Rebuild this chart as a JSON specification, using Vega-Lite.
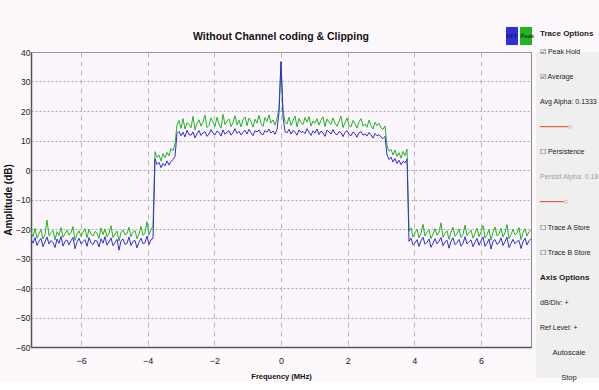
{
  "$schema": "https://vega.github.io/schema/vega-lite/v6.json",
  "background": "#fcf8fc",
  "padding": {"left": 3, "top": 30, "right": 0, "bottom": 0},
  "spacing": 4,
  "config": {
    "font": "Liberation Sans, Arial, sans-serif",
    "view": {"stroke": null}
  },
  "hconcat": [
    {
      "width": 500,
      "height": 295,
      "title": {"text": "Without Channel coding & Clipping", "fontSize": 10.5, "fontWeight": "bold", "color": "#111111", "offset": 6, "font": "Liberation Sans, Arial, sans-serif"},
      "view": {"fill": "#fcf6fc", "stroke": "#8a8a8a", "strokeWidth": 1},
      "data": {"values": [
        {"f":-7.5,"fft":-23.5,"peak":-21.0},{"f":-7.44,"fft":-24.8,"peak":-22.6},{"f":-7.38,"fft":-22.9,"peak":-19.8},{"f":-7.32,"fft":-25.6,"peak":-23.1},{"f":-7.26,"fft":-24.1,"peak":-21.5},{"f":-7.2,"fft":-23.2,"peak":-20.2},{"f":-7.14,"fft":-26.0,"peak":-23.4},{"f":-7.08,"fft":-24.4,"peak":-21.9},{"f":-7.02,"fft":-22.7,"peak":-17.0},{"f":-6.96,"fft":-25.1,"peak":-22.3},
        {"f":-6.9,"fft":-23.9,"peak":-21.2},{"f":-6.84,"fft":-24.6,"peak":-20.5},{"f":-6.78,"fft":-26.3,"peak":-23.7},{"f":-6.72,"fft":-23.4,"peak":-20.9},{"f":-6.66,"fft":-24.9,"peak":-22.2},{"f":-6.6,"fft":-22.5,"peak":-19.5},{"f":-6.54,"fft":-25.8,"peak":-22.8},{"f":-6.48,"fft":-24.2,"peak":-21.6},{"f":-6.42,"fft":-23.7,"peak":-20.4},{"f":-6.36,"fft":-25.4,"peak":-22.1},
        {"f":-6.3,"fft":-24.0,"peak":-21.3},{"f":-6.24,"fft":-22.8,"peak":-19.2},{"f":-6.18,"fft":-26.7,"peak":-23.9},{"f":-6.12,"fft":-24.5,"peak":-21.8},{"f":-6.06,"fft":-23.1,"peak":-20.6},{"f":-6,"fft":-25.0,"peak":-22.5},{"f":-5.94,"fft":-24.3,"peak":-21.1},{"f":-5.88,"fft":-23.6,"peak":-19.9},{"f":-5.82,"fft":-25.9,"peak":-23.0},{"f":-5.76,"fft":-22.9,"peak":-20.1},
        {"f":-5.7,"fft":-24.7,"peak":-21.7},{"f":-5.64,"fft":-25.3,"peak":-22.4},{"f":-5.58,"fft":-23.8,"peak":-20.8},{"f":-5.52,"fft":-24.1,"peak":-21.4},{"f":-5.46,"fft":-26.1,"peak":-23.2},{"f":-5.4,"fft":-23.3,"peak":-19.6},{"f":-5.34,"fft":-24.8,"peak":-21.9},{"f":-5.28,"fft":-22.6,"peak":-20.0},{"f":-5.22,"fft":-25.5,"peak":-22.7},{"f":-5.16,"fft":-24.4,"peak":-21.5},
        {"f":-5.1,"fft":-23.0,"peak":-18.9},{"f":-5.04,"fft":-25.7,"peak":-22.9},{"f":-4.98,"fft":-24.6,"peak":-21.8},{"f":-4.92,"fft":-23.5,"peak":-20.7},{"f":-4.86,"fft":-27.2,"peak":-24.1},{"f":-4.8,"fft":-24.0,"peak":-21.2},{"f":-4.74,"fft":-23.4,"peak":-20.3},{"f":-4.68,"fft":-25.2,"peak":-22.0},{"f":-4.62,"fft":-24.9,"peak":-21.6},{"f":-4.56,"fft":-22.7,"peak":-19.4},
        {"f":-4.5,"fft":-25.6,"peak":-22.6},{"f":-4.44,"fft":-24.2,"peak":-21.0},{"f":-4.38,"fft":-23.9,"peak":-20.5},{"f":-4.32,"fft":-26.4,"peak":-23.3},{"f":-4.26,"fft":-24.5,"peak":-21.7},{"f":-4.2,"fft":-23.1,"peak":-19.1},{"f":-4.14,"fft":-25.0,"peak":-22.2},{"f":-4.08,"fft":-24.7,"peak":-21.4},{"f":-4.02,"fft":-22.4,"peak":-17.5},{"f":-3.96,"fft":-25.3,"peak":-21.9},
        {"f":-3.9,"fft":-23.6,"peak":-20.2},{"f":-3.84,"fft":-23.2,"peak":-19.0},
        {"f":-3.78,"fft":3.8,"peak":6.2},{"f":-3.72,"fft":1.9,"peak":4.3},{"f":-3.66,"fft":2.6,"peak":5.1},{"f":-3.6,"fft":0.8,"peak":3.0},{"f":-3.54,"fft":2.2,"peak":5.6},{"f":-3.48,"fft":1.4,"peak":4.2},{"f":-3.42,"fft":3.1,"peak":6.0},{"f":-3.36,"fft":1.7,"peak":4.8},{"f":-3.3,"fft":2.9,"peak":7.3},{"f":-3.24,"fft":3.5,"peak":6.5},{"f":-3.18,"fft":4.6,"peak":8.8},
        {"f":-3.12,"fft":12.4,"peak":15.2},{"f":-3.06,"fft":13.1,"peak":16.8},{"f":-3,"fft":11.6,"peak":14.1},{"f":-2.94,"fft":12.8,"peak":17.4},{"f":-2.88,"fft":11.2,"peak":13.9},{"f":-2.82,"fft":13.5,"peak":16.0},{"f":-2.76,"fft":12.0,"peak":15.5},{"f":-2.7,"fft":11.8,"peak":14.3},{"f":-2.64,"fft":12.9,"peak":18.2},{"f":-2.58,"fft":10.9,"peak":13.6},
        {"f":-2.52,"fft":12.3,"peak":15.8},{"f":-2.46,"fft":13.4,"peak":17.0},{"f":-2.4,"fft":11.7,"peak":14.9},{"f":-2.34,"fft":12.6,"peak":16.3},{"f":-2.28,"fft":13.0,"peak":18.6},{"f":-2.22,"fft":11.4,"peak":14.4},{"f":-2.16,"fft":12.2,"peak":15.1},{"f":-2.1,"fft":13.7,"peak":17.7},{"f":-2.04,"fft":12.5,"peak":16.2},{"f":-1.98,"fft":11.9,"peak":14.8},
        {"f":-1.92,"fft":13.2,"peak":17.9},{"f":-1.86,"fft":12.7,"peak":15.6},{"f":-1.8,"fft":11.5,"peak":14.2},{"f":-1.74,"fft":13.6,"peak":18.9},{"f":-1.68,"fft":12.1,"peak":15.4},{"f":-1.62,"fft":12.9,"peak":16.6},{"f":-1.56,"fft":13.3,"peak":17.3},{"f":-1.5,"fft":11.8,"peak":14.7},{"f":-1.44,"fft":12.6,"peak":16.1},{"f":-1.38,"fft":14.0,"peak":18.4},
        {"f":-1.32,"fft":12.4,"peak":15.3},{"f":-1.26,"fft":13.1,"peak":16.9},{"f":-1.2,"fft":11.9,"peak":14.6},{"f":-1.14,"fft":12.8,"peak":17.1},{"f":-1.08,"fft":13.5,"peak":18.0},{"f":-1.02,"fft":12.2,"peak":15.0},{"f":-0.96,"fft":13.8,"peak":17.6},{"f":-0.9,"fft":12.7,"peak":16.4},{"f":-0.84,"fft":11.6,"peak":14.5},{"f":-0.78,"fft":13.3,"peak":17.2},
        {"f":-0.72,"fft":12.9,"peak":15.9},{"f":-0.66,"fft":13.6,"peak":18.5},{"f":-0.6,"fft":12.3,"peak":15.7},{"f":-0.54,"fft":11.9,"peak":14.8},{"f":-0.48,"fft":13.4,"peak":17.8},{"f":-0.42,"fft":12.8,"peak":16.5},{"f":-0.36,"fft":13.9,"peak":18.7},{"f":-0.3,"fft":12.5,"peak":15.9},{"f":-0.24,"fft":13.2,"peak":17.0},{"f":-0.18,"fft":12.1,"peak":15.2},
        {"f":-0.12,"fft":13.7,"peak":17.5},{"f":-0.06,"fft":19.5,"peak":21.0},{"f":0,"fft":36.8,"peak":36.5},{"f":0.06,"fft":18.0,"peak":20.2},
        {"f":0.12,"fft":13.0,"peak":16.4},{"f":0.18,"fft":12.6,"peak":15.6},{"f":0.24,"fft":13.8,"peak":17.9},{"f":0.3,"fft":12.2,"peak":15.1},{"f":0.36,"fft":13.4,"peak":16.7},{"f":0.42,"fft":12.9,"peak":18.3},{"f":0.48,"fft":11.8,"peak":14.6},{"f":0.54,"fft":13.6,"peak":17.5},{"f":0.6,"fft":12.7,"peak":16.0},
        {"f":0.66,"fft":13.1,"peak":15.4},{"f":0.72,"fft":12.3,"peak":17.8},{"f":0.78,"fft":14.0,"peak":16.2},{"f":0.84,"fft":12.8,"peak":18.1},{"f":0.9,"fft":11.7,"peak":14.9},{"f":0.96,"fft":13.3,"peak":16.6},{"f":1.02,"fft":12.5,"peak":15.8},{"f":1.08,"fft":13.9,"peak":17.4},{"f":1.14,"fft":12.0,"peak":15.2},{"f":1.2,"fft":13.2,"peak":16.9},
        {"f":1.26,"fft":12.6,"peak":18.0},{"f":1.32,"fft":11.4,"peak":14.7},{"f":1.38,"fft":13.5,"peak":17.3},{"f":1.44,"fft":12.9,"peak":16.1},{"f":1.5,"fft":12.2,"peak":15.5},{"f":1.56,"fft":13.7,"peak":17.7},{"f":1.62,"fft":12.4,"peak":15.9},{"f":1.68,"fft":11.9,"peak":14.8},{"f":1.74,"fft":13.0,"peak":16.5},{"f":1.8,"fft":12.7,"peak":18.2},
        {"f":1.86,"fft":11.3,"peak":14.4},{"f":1.92,"fft":12.8,"peak":16.0},{"f":1.98,"fft":13.4,"peak":17.6},{"f":2.04,"fft":12.1,"peak":15.3},{"f":2.1,"fft":11.6,"peak":14.6},{"f":2.16,"fft":12.9,"peak":16.8},{"f":2.22,"fft":12.3,"peak":15.7},{"f":2.28,"fft":11.1,"peak":14.2},{"f":2.34,"fft":12.6,"peak":16.3},{"f":2.4,"fft":13.0,"peak":17.4},
        {"f":2.46,"fft":11.8,"peak":14.9},{"f":2.52,"fft":12.2,"peak":15.6},{"f":2.58,"fft":11.5,"peak":14.5},{"f":2.64,"fft":12.7,"peak":16.9},{"f":2.7,"fft":11.9,"peak":15.1},{"f":2.76,"fft":10.8,"peak":13.9},{"f":2.82,"fft":12.4,"peak":16.2},{"f":2.88,"fft":11.6,"peak":15.0},{"f":2.94,"fft":12.0,"peak":15.8},{"f":3,"fft":11.2,"peak":14.3},
        {"f":3.06,"fft":10.6,"peak":13.8},{"f":3.12,"fft":11.4,"peak":14.9},
        {"f":3.18,"fft":5.1,"peak":8.2},{"f":3.24,"fft":3.6,"peak":6.4},{"f":3.3,"fft":4.4,"peak":7.0},{"f":3.36,"fft":2.7,"peak":5.1},{"f":3.42,"fft":3.9,"peak":6.8},{"f":3.48,"fft":2.2,"peak":4.6},{"f":3.54,"fft":3.3,"peak":5.9},{"f":3.6,"fft":1.8,"peak":4.0},{"f":3.66,"fft":3.0,"peak":6.3},{"f":3.72,"fft":2.4,"peak":4.9},{"f":3.78,"fft":3.7,"peak":7.1},
        {"f":3.84,"fft":-24.2,"peak":-20.8},{"f":3.9,"fft":-23.1,"peak":-19.6},{"f":3.96,"fft":-25.4,"peak":-22.7},{"f":4.02,"fft":-24.7,"peak":-21.3},{"f":4.08,"fft":-23.6,"peak":-20.1},{"f":4.14,"fft":-25.9,"peak":-23.0},{"f":4.2,"fft":-24.0,"peak":-21.5},{"f":4.26,"fft":-22.8,"peak":-18.4},{"f":4.32,"fft":-25.2,"peak":-22.4},{"f":4.38,"fft":-24.5,"peak":-21.0},
        {"f":4.44,"fft":-23.4,"peak":-20.3},{"f":4.5,"fft":-26.2,"peak":-23.3},{"f":4.56,"fft":-24.8,"peak":-21.7},{"f":4.62,"fft":-23.3,"peak":-19.9},{"f":4.68,"fft":-25.0,"peak":-22.1},{"f":4.74,"fft":-24.1,"peak":-21.2},{"f":4.8,"fft":-22.9,"peak":-17.9},{"f":4.86,"fft":-25.7,"peak":-22.8},{"f":4.92,"fft":-24.4,"peak":-21.4},{"f":4.98,"fft":-23.8,"peak":-20.6},
        {"f":5.04,"fft":-26.5,"peak":-23.5},{"f":5.1,"fft":-24.2,"peak":-21.1},{"f":5.16,"fft":-23.0,"peak":-19.4},{"f":5.22,"fft":-25.3,"peak":-22.5},{"f":5.28,"fft":-24.6,"peak":-21.6},{"f":5.34,"fft":-23.5,"peak":-20.0},{"f":5.4,"fft":-25.8,"peak":-22.9},{"f":5.46,"fft":-24.9,"peak":-21.8},{"f":5.52,"fft":-22.6,"peak":-18.7},{"f":5.58,"fft":-25.1,"peak":-22.2},
        {"f":5.64,"fft":-24.3,"peak":-21.3},{"f":5.7,"fft":-23.7,"peak":-20.4},{"f":5.76,"fft":-26.0,"peak":-23.1},{"f":5.82,"fft":-24.5,"peak":-21.5},{"f":5.88,"fft":-23.2,"peak":-19.7},{"f":5.94,"fft":-25.5,"peak":-22.6},{"f":6,"fft":-24.0,"peak":-21.0},{"f":6.06,"fft":-22.7,"peak":-18.8},{"f":6.12,"fft":-25.9,"peak":-23.0},{"f":6.18,"fft":-24.8,"peak":-21.9},
        {"f":6.24,"fft":-23.4,"peak":-20.2},{"f":6.3,"fft":-26.8,"peak":-23.8},{"f":6.36,"fft":-24.1,"peak":-21.1},{"f":6.42,"fft":-23.6,"peak":-19.3},{"f":6.48,"fft":-25.2,"peak":-22.3},{"f":6.54,"fft":-24.7,"peak":-21.7},{"f":6.6,"fft":-23.0,"peak":-19.8},{"f":6.66,"fft":-25.6,"peak":-22.7},{"f":6.72,"fft":-24.3,"peak":-21.2},{"f":6.78,"fft":-22.8,"peak":-18.5},
        {"f":6.84,"fft":-26.3,"peak":-23.2},{"f":6.9,"fft":-24.9,"peak":-21.9},{"f":6.96,"fft":-23.5,"peak":-20.1},{"f":7.02,"fft":-25.0,"peak":-22.0},{"f":7.08,"fft":-24.2,"peak":-21.4},{"f":7.14,"fft":-23.9,"peak":-19.5},{"f":7.2,"fft":-26.6,"peak":-23.6},{"f":7.26,"fft":-24.4,"peak":-21.3},{"f":7.32,"fft":-23.1,"peak":-19.9},{"f":7.38,"fft":-25.4,"peak":-22.4},
        {"f":7.44,"fft":-24.0,"peak":-20.9},{"f":7.5,"fft":-23.3,"peak":-20.3}
      ]},
      "encoding": {
        "x": {
          "field": "f", "type": "quantitative",
          "scale": {"domain": [-7.5, 7.5], "nice": false, "zero": false},
          "axis": {
            "title": "Frequency (MHz)", "values": [-6, -4, -2, 0, 2, 4, 6],
            "titleFontSize": 7.5, "titleFontWeight": "bold", "titleColor": "#111111", "titlePadding": 7,
            "labelFontSize": 9, "labelColor": "#222222", "labelPadding": 9,
            "ticks": false, "domainColor": "#555555", "domainWidth": 1.5,
            "gridColor": "#b8b8b8", "gridDash": [5, 4], "gridWidth": 1
          }
        },
        "color": {
          "type": "nominal",
          "scale": {"domain": ["FFT", "Peak"], "range": ["#2f2fd8", "#22b422"]},
          "legend": {
            "title": null, "orient": "none", "legendX": 475, "legendY": -22,
            "direction": "horizontal", "symbolType": "M-1,-1.5H1V1.5H-1Z", "symbolSize": 144,
            "symbolStrokeWidth": 0, "labelOffset": -11.5, "labelFontSize": 6, "labelColor": "#111111",
            "columnPadding": 2,
            "encode": {"symbols": {"update": {"fill": {"scale": "color", "field": "value"}, "fillOpacity": {"value": 1}}}}
          }
        }
      },
      "layer": [
        {
          "mark": {"type": "line", "strokeWidth": 1, "clip": true},
          "encoding": {
            "y": {
              "field": "peak", "type": "quantitative",
              "scale": {"domain": [-60, 40], "nice": false, "zero": false},
              "axis": {
                "title": "Amplitude (dB)", "values": [-60, -50, -40, -30, -20, -10, 0, 10, 20, 30, 40],
                "titleFontSize": 10, "titleFontWeight": "bold", "titleColor": "#111111", "titlePadding": 2,
                "labelFontSize": 8.5, "labelColor": "#222222", "labelPadding": 1,
                "ticks": false, "domainColor": "#555555", "domainWidth": 1.5,
                "gridColor": "#a8a8a8", "gridDash": [2, 2], "gridWidth": 1
              }
            },
            "color": {"datum": "Peak"}
          }
        },
        {
          "mark": {"type": "line", "strokeWidth": 1, "clip": true},
          "encoding": {
            "y": {
              "field": "fft", "type": "quantitative",
              "axis": {
                "title": "Amplitude (dB)", "values": [-60, -50, -40, -30, -20, -10, 0, 10, 20, 30, 40],
                "titleFontSize": 10, "titleFontWeight": "bold", "titleColor": "#111111", "titlePadding": 2,
                "labelFontSize": 8.5, "labelColor": "#222222", "labelPadding": 1,
                "ticks": false, "domainColor": "#555555", "domainWidth": 1.5,
                "gridColor": "#a8a8a8", "gridDash": [2, 2], "gridWidth": 1
              }
            },
            "color": {"datum": "FFT"}
          }
        }
      ]
    },
    {
      "width": 63,
      "height": 326,
      "title": {"text": "Trace Options", "anchor": "start", "frame": "group", "fontSize": 8, "fontWeight": "bold", "color": "#222222", "offset": 10, "dx": 4},
      "view": {"fill": "#efefef", "stroke": null},
      "data": {"values": [
        {"label": "☑ Peak Hold", "kind": "item"},
        {"label": "☑ Average", "kind": "item"},
        {"label": "Avg Alpha: 0.1333", "kind": "item"},
        {"label": "━━━━━━━○", "kind": "slider"},
        {"label": "☐ Persistence", "kind": "item"},
        {"label": "Persist Alpha: 0.18", "kind": "disabled"},
        {"label": "━━━━━━○", "kind": "slider"},
        {"label": "☐ Trace A Store", "kind": "item"},
        {"label": "☐ Trace B Store", "kind": "item"},
        {"label": "Axis Options", "kind": "header"},
        {"label": "dB/Div:      +", "kind": "item"},
        {"label": "Ref Level:   +", "kind": "item"},
        {"label": "Autoscale", "kind": "button"},
        {"label": "Stop", "kind": "button"}
      ]},
      "encoding": {
        "y": {"field": "label", "type": "ordinal", "axis": null,
          "scale": {"type": "point", "padding": 0,
            "domain": ["☑ Peak Hold", "☑ Average", "Avg Alpha: 0.1333", "━━━━━━━○", "☐ Persistence", "Persist Alpha: 0.18", "━━━━━━○", "☐ Trace A Store", "☐ Trace B Store", "Axis Options", "dB/Div:      +", "Ref Level:   +", "Autoscale", "Stop"]}},
        "text": {"field": "label"},
        "color": {"condition": [
          {"test": "datum.kind === 'slider'", "value": "#e8603c"},
          {"test": "datum.kind === 'disabled'", "value": "#a0a0a0"}
        ], "value": "#222222"}
      },
      "layer": [
        {
          "transform": [{"filter": "datum.kind !== 'button' && datum.kind !== 'header'"}],
          "mark": {"type": "text", "align": "left", "baseline": "middle", "fontSize": 7},
          "encoding": {"x": {"value": 4}}
        },
        {
          "transform": [{"filter": "datum.kind === 'header'"}],
          "mark": {"type": "text", "align": "left", "baseline": "middle", "fontSize": 8, "fontWeight": "bold"},
          "encoding": {"x": {"value": 4}}
        },
        {
          "transform": [{"filter": "datum.kind === 'button'"}],
          "mark": {"type": "text", "align": "center", "baseline": "middle", "fontSize": 7.5},
          "encoding": {"x": {"value": 33}}
        }
      ]
    }
  ]
}
